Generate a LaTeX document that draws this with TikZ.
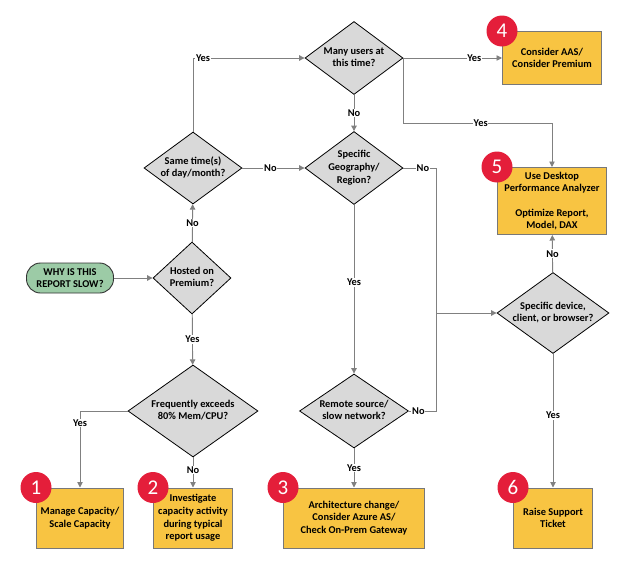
\documentclass[tikz,border=0pt]{standalone}
\usepackage{fontspec}
\setmainfont{Carlito}
\usetikzlibrary{shapes.geometric, arrows.meta, calc}

\definecolor{lineGray}{RGB}{128,128,128}
\definecolor{boxEdge}{RGB}{120,120,120}
\definecolor{diaFill}{RGB}{217,217,217}
\definecolor{actFill}{RGB}{248,196,66}
\definecolor{startFill}{RGB}{156,203,166}
\definecolor{badgeRed}{RGB}{228,30,58}

\newcommand{\dtext}[1]{\makebox[0pt]{\begin{tabular}{@{}c@{}}#1\end{tabular}}}

\tikzset{
  every node/.style={font=\fontsize{10.4}{12.6}\selectfont\bfseries},
  decision/.style={diamond, draw=black, line width=0.8pt, fill=diaFill,
    inner sep=0pt, aspect=1},
  action/.style={rectangle, draw=boxEdge, line width=1pt, fill=actFill,
    align=center, inner sep=2pt},
  startbox/.style={rectangle, rounded corners=14pt, draw=black!80, line width=0.9pt,
    fill=startFill, align=center, minimum width=87pt, minimum height=30pt},
  badge/.style={circle, fill=badgeRed, text=white, minimum size=31pt, inner sep=0pt,
    font=\fontsize{21}{21}\selectfont},
  link/.style={draw=lineGray, line width=0.9pt},
  arrow/.style={link, -{Triangle[width=5.5pt,length=5.5pt]}},
  lbl/.style={fill=white, inner sep=0.8pt}
}

\begin{document}
\begin{tikzpicture}[x=1pt, y=-1pt]
\useasboundingbox (0,0) rectangle (630,565);

% question diamonds
\node[decision, minimum width=78pt, minimum height=72pt] (hosted) at (192,278) {\dtext{Hosted on\\Premium?}};
\node[decision, minimum width=98pt, minimum height=72pt] (same) at (193,168) {\dtext{Same time(s)\\of day/month?}};
\node[decision, minimum width=98pt, minimum height=73pt] (many) at (354,58) {\dtext{Many users at\\this time?}};
\node[decision, minimum width=98pt, minimum height=73pt] (geo) at (354,168) {\dtext{Specific\\Geography/\\Region?}};
\node[decision, minimum width=109pt, minimum height=74pt] (remote) at (354,411) {\dtext{Remote source/\\slow network?}};
\node[decision, minimum width=130pt, minimum height=92pt] (freq) at (193,411) {\dtext{Frequently exceeds\\80\% Mem/CPU?}};
\node[decision, minimum width=112pt, minimum height=81pt] (device) at (553,313) {\dtext{Specific device,\\client, or browser?}};

% start
\node[startbox] (start) at (70,278) {WHY IS THIS\\REPORT SLOW?};

% outcomes
\node[action, minimum width=87pt, minimum height=60pt] (manage) at (80,518) {Manage Capacity/\\Scale Capacity};
\node[action, minimum width=79pt, minimum height=60pt] (invest) at (193,518) {Investigate\\capacity activity\\during typical\\report usage};
\node[action, minimum width=141pt, minimum height=60pt] (arch) at (354,518) {Architecture change/\\Consider Azure AS/\\Check On-Prem Gateway};
\node[action, minimum width=79pt, minimum height=60pt] (ticket) at (553,518) {Raise Support\\Ticket};
\node[action, minimum width=99pt, minimum height=53pt] (aas) at (552,58) {Consider AAS/\\Consider Premium};
\node[action, minimum width=109pt, minimum height=67pt] (desk) at (552,201) {Use Desktop\\Performance Analyzer\\[12pt]Optimize Report,\\Model, DAX};

% numbered badges
\node[badge] (b1) at (manage.north west) {1};
\node[badge] (b2) at (invest.north west) {2};
\node[badge] (b3) at (arch.north west) {3};
\node[badge] (b4) at (aas.north west) {4};
\node[badge] (b5) at (desk.north west) {5};
\node[badge] (b6) at (ticket.north west) {6};

\coordinate (join) at (436,313);

% connectors
\draw[arrow] (start) -- (hosted);
\draw[arrow] (hosted) -- node[lbl] {No} (same);
\draw[arrow] (hosted) -- node[lbl] {Yes} (freq);
\draw[arrow] (same) -- node[lbl, pos=0.45] {No} (geo);
\draw[arrow] (same.north) |- node[lbl, pos=0.545] {Yes} (many.west);
\draw[arrow] (many) -- node[lbl, pos=0.72] {Yes} (aas);
\draw[arrow] (many) -- node[lbl] {No} (geo);
\draw[arrow] (many.east) -- ++(0,65) -| node[lbl, pos=0.26] {Yes} (desk.north);
\draw[link] (geo.east) -- node[lbl, pos=0.6] {No} (geo.east -| join) -- (join);
\draw[link] (remote.east) -- node[lbl, pos=0.35] {No} (remote.east -| join) -- (join);
\draw[arrow] (join) -- (device.west);
\draw[arrow] (geo) -- node[lbl, pos=0.46] {Yes} (remote);
\draw[arrow] (remote) -- node[lbl] {Yes} (arch);
\draw[arrow] (freq.west) -| node[lbl, pos=0.58] {Yes} (manage.north);
\draw[arrow] (freq) -- node[lbl, pos=0.42] {No} (invest);
\draw[arrow] (device) -- node[lbl] {No} (desk);
\draw[arrow] (device) -- node[lbl, pos=0.46] {Yes} (ticket);
\end{tikzpicture}
\end{document}
